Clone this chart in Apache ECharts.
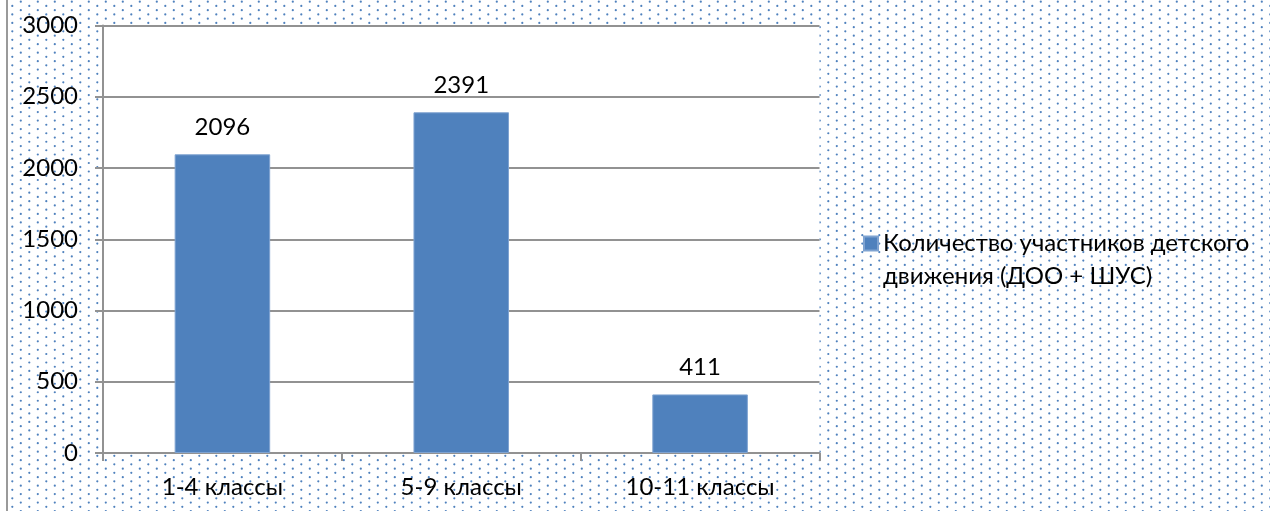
<!DOCTYPE html>
<html>
<head>
<meta charset="utf-8">
<script src="https://cdn.jsdelivr.net/npm/echarts@6/dist/echarts.min.js"></script>
<style>
  html, body { margin: 0; padding: 0; background: #fff; }
  #chart { width: 1270px; height: 511px; }
</style>
</head>
<body>
<div id="chart"></div>
<script>
  // 数据
  var categories = ['1-4 классы', '5-9 классы', '10-11 классы'];
  var values = [2096, 2391, 411];
  var seriesName = 'Количество участников детского движения (ДОО + ШУС)';
  var yMin = 0, yMax = 3000, yStep = 500;

  var FONT = 'Lato, "Open Sans", sans-serif';
  var FONT_SIZE = 24;
  var AXIS_GRAY = '#929292';

  // 点状底纹 + 左边框
  function makeBackground (w, h) {
    var c = document.createElement('canvas');
    c.width = w;
    c.height = h;
    var ctx = c.getContext('2d');
    ctx.fillStyle = '#fff';
    ctx.fillRect(0, 0, w, h);
    ctx.fillStyle = '#4f81bd';
    for (var i = 0; 12.3 + i * 8.5 < w + 2; i++) {
      var x = 12.3 + i * 8.5;
      var y0 = i % 2 ? 1.7 : 5.9;
      for (var y = y0; y < h + 2; y += 8.49) {
        ctx.beginPath();
        ctx.arc(x, y, 1.1, 0, Math.PI * 2);
        ctx.fill();
      }
    }
    ctx.fillStyle = '#9a9a9a';
    ctx.fillRect(6, 0, 2, h);
    return c;
  }

  var myChart = echarts.init(document.getElementById('chart'));

  var option = {
    backgroundColor: { image: makeBackground(1270, 511), repeat: 'no-repeat' },
    textStyle: { fontFamily: FONT },
    animation: false,
    grid: {
      left: 103, top: 25.5, right: 450.5, bottom: 58,
      show: true, backgroundColor: '#fff', borderWidth: 0
    },
    legend: {
      left: 858, top: 189,
      orient: 'vertical',
      icon: 'rect',
      itemWidth: 14, itemHeight: 14,
      // 图例方块与第一行文字对齐：前面加一个空行
      formatter: function (name) {
        return ' \n' + name.replace('детского ', 'детского\n');
      },
      textStyle: {
        fontFamily: FONT, fontSize: FONT_SIZE, color: '#000', lineHeight: 33
      }
    },
    xAxis: {
      type: 'category',
      data: categories,
      axisLine: { lineStyle: { color: AXIS_GRAY, width: 2 } },
      axisTick: { show: true, length: 8, lineStyle: { color: AXIS_GRAY, width: 2 } },
      axisLabel: { color: '#000', fontSize: FONT_SIZE, fontFamily: FONT, margin: 22 }
    },
    yAxis: {
      type: 'value',
      min: yMin, max: yMax, interval: yStep,
      axisLine: { show: true, lineStyle: { color: AXIS_GRAY, width: 2 } },
      axisTick: { show: true, length: 8, lineStyle: { color: AXIS_GRAY, width: 2 } },
      axisLabel: {
        color: '#000', fontSize: FONT_SIZE, fontFamily: FONT, margin: 25,
        formatter: function (v) { return String(v); }
      },
      splitLine: { show: true, lineStyle: { color: AXIS_GRAY, width: 2 } }
    },
    series: [{
      type: 'bar',
      name: seriesName,
      data: values,
      barWidth: '40%',
      itemStyle: { color: '#4f81bd', borderColor: '#7fa3d1', borderWidth: 1 },
      label: {
        show: true, position: 'top', distance: 15,
        color: '#000', fontSize: FONT_SIZE, fontFamily: FONT
      }
    }]
  };
  myChart.setOption(option);
</script>
</body>
</html>
